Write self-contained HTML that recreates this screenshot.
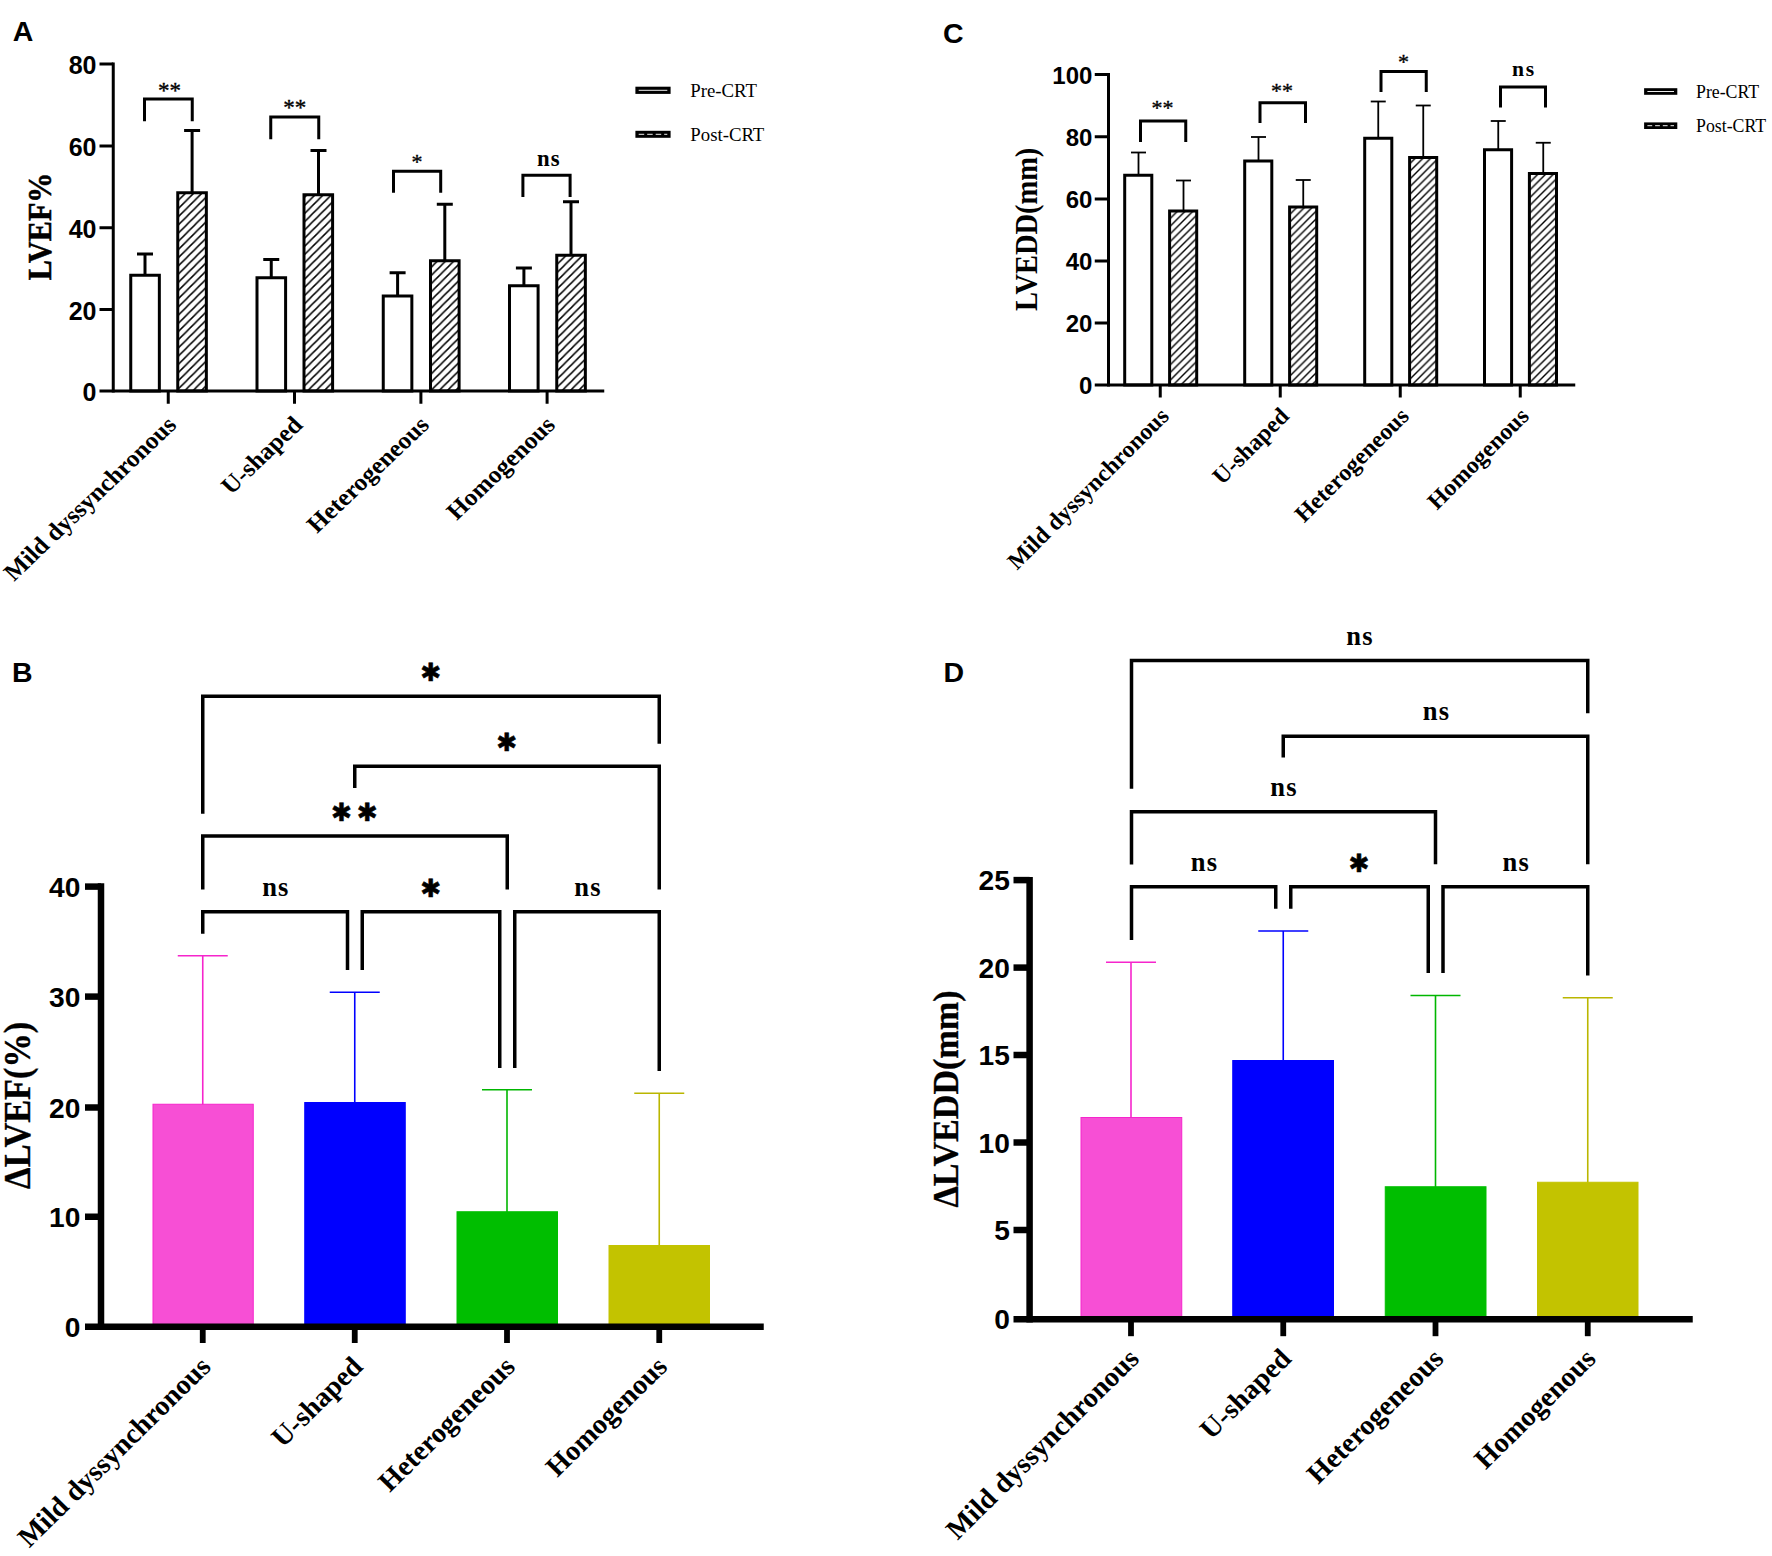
<!DOCTYPE html>
<html lang="en"><head><meta charset="utf-8"><title>Figure</title>
<style>html,body{margin:0;padding:0;background:#fff;}svg{display:block;}</style></head><body>
<svg width="1772" height="1556" viewBox="0 0 1772 1556">
<defs>
<pattern id="hatchA" patternUnits="userSpaceOnUse" width="8.2" height="8.2" x="179.2" y="191.3">
<rect width="8.2" height="8.2" fill="#fff"/>
<path d="M-2,10.2 L10.2,-2 M-2,2 L2,-2 M6.2,10.2 L10.2,6.2" stroke="#000" stroke-width="1.45"/>
</pattern>
<pattern id="hatchC" patternUnits="userSpaceOnUse" width="7.7" height="7.7" x="1171.5" y="209.5">
<rect width="7.7" height="7.7" fill="#fff"/>
<path d="M-2,9.7 L9.7,-2 M-2,2 L2,-2 M5.7,9.7 L9.7,5.7" stroke="#000" stroke-width="1.4"/>
</pattern>
</defs>
<rect width="1772" height="1556" fill="#fff"/>
<g id="panelA">
<text x="12.80" y="41.40" font-family='"Liberation Sans", Arial, Helvetica, sans-serif' font-size="28.5" font-weight="bold" text-anchor="start" >A</text>
<line x1="145.00" y1="254.00" x2="145.00" y2="275.25" stroke="#000" stroke-width="3" stroke-linecap="butt"/>
<line x1="137.00" y1="254.00" x2="153.00" y2="254.00" stroke="#000" stroke-width="3" stroke-linecap="butt"/>
<line x1="192.10" y1="130.50" x2="192.10" y2="192.75" stroke="#000" stroke-width="3" stroke-linecap="butt"/>
<line x1="184.10" y1="130.50" x2="200.10" y2="130.50" stroke="#000" stroke-width="3" stroke-linecap="butt"/>
<rect x="130.75" y="275.25" width="28.60" height="115.75" fill="#fff" stroke="#000" stroke-width="3"/>
<rect x="177.75" y="192.75" width="28.60" height="198.25" fill="url(#hatchA)" stroke="#000" stroke-width="3"/>
<line x1="271.25" y1="259.50" x2="271.25" y2="277.75" stroke="#000" stroke-width="3" stroke-linecap="butt"/>
<line x1="263.25" y1="259.50" x2="279.25" y2="259.50" stroke="#000" stroke-width="3" stroke-linecap="butt"/>
<line x1="318.50" y1="150.50" x2="318.50" y2="194.75" stroke="#000" stroke-width="3" stroke-linecap="butt"/>
<line x1="310.50" y1="150.50" x2="326.50" y2="150.50" stroke="#000" stroke-width="3" stroke-linecap="butt"/>
<rect x="257.00" y="277.75" width="28.60" height="113.25" fill="#fff" stroke="#000" stroke-width="3"/>
<rect x="304.00" y="194.75" width="28.60" height="196.25" fill="url(#hatchA)" stroke="#000" stroke-width="3"/>
<line x1="397.60" y1="272.75" x2="397.60" y2="296.00" stroke="#000" stroke-width="3" stroke-linecap="butt"/>
<line x1="389.60" y1="272.75" x2="405.60" y2="272.75" stroke="#000" stroke-width="3" stroke-linecap="butt"/>
<line x1="444.80" y1="204.25" x2="444.80" y2="260.75" stroke="#000" stroke-width="3" stroke-linecap="butt"/>
<line x1="436.80" y1="204.25" x2="452.80" y2="204.25" stroke="#000" stroke-width="3" stroke-linecap="butt"/>
<rect x="383.25" y="296.00" width="28.60" height="95.00" fill="#fff" stroke="#000" stroke-width="3"/>
<rect x="430.50" y="260.75" width="28.60" height="130.25" fill="url(#hatchA)" stroke="#000" stroke-width="3"/>
<line x1="523.90" y1="268.00" x2="523.90" y2="285.75" stroke="#000" stroke-width="3" stroke-linecap="butt"/>
<line x1="515.90" y1="268.00" x2="531.90" y2="268.00" stroke="#000" stroke-width="3" stroke-linecap="butt"/>
<line x1="571.00" y1="201.75" x2="571.00" y2="255.25" stroke="#000" stroke-width="3" stroke-linecap="butt"/>
<line x1="563.00" y1="201.75" x2="579.00" y2="201.75" stroke="#000" stroke-width="3" stroke-linecap="butt"/>
<rect x="509.50" y="285.75" width="28.60" height="105.25" fill="#fff" stroke="#000" stroke-width="3"/>
<rect x="556.75" y="255.25" width="28.60" height="135.75" fill="url(#hatchA)" stroke="#000" stroke-width="3"/>
<line x1="113.25" y1="62.50" x2="113.25" y2="392.50" stroke="#000" stroke-width="3" stroke-linecap="butt"/>
<line x1="99.50" y1="391.00" x2="604.25" y2="391.00" stroke="#000" stroke-width="3" stroke-linecap="butt"/>
<line x1="99.50" y1="64.00" x2="113.25" y2="64.00" stroke="#000" stroke-width="3" stroke-linecap="butt"/>
<line x1="99.50" y1="146.00" x2="113.25" y2="146.00" stroke="#000" stroke-width="3" stroke-linecap="butt"/>
<line x1="99.50" y1="227.75" x2="113.25" y2="227.75" stroke="#000" stroke-width="3" stroke-linecap="butt"/>
<line x1="99.50" y1="309.50" x2="113.25" y2="309.50" stroke="#000" stroke-width="3" stroke-linecap="butt"/>
<text x="96.50" y="74.00" font-family='"Liberation Sans", Arial, Helvetica, sans-serif' font-size="25" font-weight="bold" text-anchor="end" >80</text>
<text x="96.50" y="156.00" font-family='"Liberation Sans", Arial, Helvetica, sans-serif' font-size="25" font-weight="bold" text-anchor="end" >60</text>
<text x="96.50" y="237.75" font-family='"Liberation Sans", Arial, Helvetica, sans-serif' font-size="25" font-weight="bold" text-anchor="end" >40</text>
<text x="96.50" y="319.50" font-family='"Liberation Sans", Arial, Helvetica, sans-serif' font-size="25" font-weight="bold" text-anchor="end" >20</text>
<text x="96.50" y="401.00" font-family='"Liberation Sans", Arial, Helvetica, sans-serif' font-size="25" font-weight="bold" text-anchor="end" >0</text>
<line x1="168.25" y1="391.00" x2="168.25" y2="403.75" stroke="#000" stroke-width="3" stroke-linecap="butt"/>
<line x1="294.50" y1="391.00" x2="294.50" y2="403.75" stroke="#000" stroke-width="3" stroke-linecap="butt"/>
<line x1="420.90" y1="391.00" x2="420.90" y2="403.75" stroke="#000" stroke-width="3" stroke-linecap="butt"/>
<line x1="547.10" y1="391.00" x2="547.10" y2="403.75" stroke="#000" stroke-width="3" stroke-linecap="butt"/>
<path d="M144.50,121.25 L144.50,99.00 L192.25,99.00 L192.25,121.25" stroke="#000" stroke-width="3" fill="none" stroke-linejoin="miter"/>
<path d="M270.75,139.25 L270.75,117.00 L318.75,117.00 L318.75,139.25" stroke="#000" stroke-width="3" fill="none" stroke-linejoin="miter"/>
<path d="M393.50,192.80 L393.50,171.25 L440.70,171.25 L440.70,192.80" stroke="#000" stroke-width="3" fill="none" stroke-linejoin="miter"/>
<path d="M522.90,197.00 L522.90,175.20 L570.10,175.20 L570.10,197.00" stroke="#000" stroke-width="3" fill="none" stroke-linejoin="miter"/>
<text x="169.50" y="97.50" font-family='"Liberation Serif", "Times New Roman", Times, serif' font-size="23" font-weight="normal" text-anchor="middle" stroke="#000" stroke-width="0.35">**</text>
<text x="294.80" y="115.30" font-family='"Liberation Serif", "Times New Roman", Times, serif' font-size="23" font-weight="normal" text-anchor="middle" stroke="#000" stroke-width="0.35">**</text>
<text x="417.00" y="169.30" font-family='"Liberation Serif", "Times New Roman", Times, serif' font-size="22" font-weight="normal" text-anchor="middle" stroke="#000" stroke-width="0.35">*</text>
<text x="548.90" y="166.00" font-family='"Liberation Serif", "Times New Roman", Times, serif' font-size="22.8" font-weight="bold" text-anchor="middle" letter-spacing="1.0">ns</text>
<text transform="translate(51.00,226.40) rotate(-90)" font-family='"Liberation Serif", "Times New Roman", Times, serif' font-size="33" font-weight="bold" text-anchor="middle" textLength="107.8" lengthAdjust="spacingAndGlyphs" stroke="#000" stroke-width="0.5">LVEF%</text>
<text transform="translate(177.75,426.30) scale(1,0.95) rotate(-45)" font-family='"Liberation Serif", "Times New Roman", Times, serif' font-size="25.4" font-weight="bold" text-anchor="end" >Mild dyssynchronous</text>
<text transform="translate(304.00,426.30) scale(1,0.95) rotate(-45)" font-family='"Liberation Serif", "Times New Roman", Times, serif' font-size="25.4" font-weight="bold" text-anchor="end" >U-shaped</text>
<text transform="translate(430.40,426.30) scale(1,0.95) rotate(-45)" font-family='"Liberation Serif", "Times New Roman", Times, serif' font-size="25.4" font-weight="bold" text-anchor="end" >Heterogeneous</text>
<text transform="translate(556.60,426.30) scale(1,0.95) rotate(-45)" font-family='"Liberation Serif", "Times New Roman", Times, serif' font-size="25.4" font-weight="bold" text-anchor="end" >Homogenous</text>
<rect x="635.40" y="86.70" width="35.20" height="7.20" fill="#000"/>
<line x1="638.70" y1="90.30" x2="667.30" y2="90.30" stroke="#eee" stroke-width="1.0"/>
<rect x="635.40" y="130.80" width="35.20" height="7.00" fill="#000"/>
<line x1="638.70" y1="134.30" x2="667.30" y2="134.30" stroke="#eee" stroke-width="1.0" stroke-dasharray="5.5,3"/>
<text x="690.30" y="97.20" font-family='"Liberation Serif", "Times New Roman", Times, serif' font-size="18.8" font-weight="normal" text-anchor="start" >Pre-CRT</text>
<text x="690.30" y="141.20" font-family='"Liberation Serif", "Times New Roman", Times, serif' font-size="18.8" font-weight="normal" text-anchor="start" >Post-CRT</text>
</g>
<g id="panelC">
<text x="943.00" y="42.50" font-family='"Liberation Sans", Arial, Helvetica, sans-serif' font-size="28.5" font-weight="bold" text-anchor="start" >C</text>
<line x1="1138.50" y1="152.50" x2="1138.50" y2="175.25" stroke="#000" stroke-width="1.8" stroke-linecap="butt"/>
<line x1="1131.00" y1="152.50" x2="1146.00" y2="152.50" stroke="#000" stroke-width="1.8" stroke-linecap="butt"/>
<line x1="1183.50" y1="180.50" x2="1183.50" y2="211.00" stroke="#000" stroke-width="1.8" stroke-linecap="butt"/>
<line x1="1176.00" y1="180.50" x2="1191.00" y2="180.50" stroke="#000" stroke-width="1.8" stroke-linecap="butt"/>
<rect x="1124.70" y="175.25" width="27.10" height="209.75" fill="#fff" stroke="#000" stroke-width="3"/>
<rect x="1169.60" y="211.00" width="27.10" height="174.00" fill="url(#hatchC)" stroke="#000" stroke-width="3"/>
<line x1="1258.50" y1="137.00" x2="1258.50" y2="161.00" stroke="#000" stroke-width="1.8" stroke-linecap="butt"/>
<line x1="1251.00" y1="137.00" x2="1266.00" y2="137.00" stroke="#000" stroke-width="1.8" stroke-linecap="butt"/>
<line x1="1303.25" y1="180.00" x2="1303.25" y2="207.00" stroke="#000" stroke-width="1.8" stroke-linecap="butt"/>
<line x1="1295.75" y1="180.00" x2="1310.75" y2="180.00" stroke="#000" stroke-width="1.8" stroke-linecap="butt"/>
<rect x="1244.70" y="161.00" width="27.10" height="224.00" fill="#fff" stroke="#000" stroke-width="3"/>
<rect x="1289.60" y="207.00" width="27.10" height="178.00" fill="url(#hatchC)" stroke="#000" stroke-width="3"/>
<line x1="1378.25" y1="101.50" x2="1378.25" y2="138.25" stroke="#000" stroke-width="1.8" stroke-linecap="butt"/>
<line x1="1370.75" y1="101.50" x2="1385.75" y2="101.50" stroke="#000" stroke-width="1.8" stroke-linecap="butt"/>
<line x1="1423.25" y1="105.50" x2="1423.25" y2="157.50" stroke="#000" stroke-width="1.8" stroke-linecap="butt"/>
<line x1="1415.75" y1="105.50" x2="1430.75" y2="105.50" stroke="#000" stroke-width="1.8" stroke-linecap="butt"/>
<rect x="1364.70" y="138.25" width="27.10" height="246.75" fill="#fff" stroke="#000" stroke-width="3"/>
<rect x="1409.60" y="157.50" width="27.10" height="227.50" fill="url(#hatchC)" stroke="#000" stroke-width="3"/>
<line x1="1498.25" y1="121.00" x2="1498.25" y2="149.75" stroke="#000" stroke-width="1.8" stroke-linecap="butt"/>
<line x1="1490.75" y1="121.00" x2="1505.75" y2="121.00" stroke="#000" stroke-width="1.8" stroke-linecap="butt"/>
<line x1="1543.25" y1="142.75" x2="1543.25" y2="173.50" stroke="#000" stroke-width="1.8" stroke-linecap="butt"/>
<line x1="1535.75" y1="142.75" x2="1550.75" y2="142.75" stroke="#000" stroke-width="1.8" stroke-linecap="butt"/>
<rect x="1484.50" y="149.75" width="27.10" height="235.25" fill="#fff" stroke="#000" stroke-width="3"/>
<rect x="1529.40" y="173.50" width="27.10" height="211.50" fill="url(#hatchC)" stroke="#000" stroke-width="3"/>
<line x1="1108.50" y1="73.00" x2="1108.50" y2="386.50" stroke="#000" stroke-width="3" stroke-linecap="butt"/>
<line x1="1094.75" y1="385.00" x2="1575.25" y2="385.00" stroke="#000" stroke-width="3" stroke-linecap="butt"/>
<line x1="1094.75" y1="74.50" x2="1108.50" y2="74.50" stroke="#000" stroke-width="3" stroke-linecap="butt"/>
<line x1="1094.75" y1="136.75" x2="1108.50" y2="136.75" stroke="#000" stroke-width="3" stroke-linecap="butt"/>
<line x1="1094.75" y1="199.00" x2="1108.50" y2="199.00" stroke="#000" stroke-width="3" stroke-linecap="butt"/>
<line x1="1094.75" y1="261.00" x2="1108.50" y2="261.00" stroke="#000" stroke-width="3" stroke-linecap="butt"/>
<line x1="1094.75" y1="323.00" x2="1108.50" y2="323.00" stroke="#000" stroke-width="3" stroke-linecap="butt"/>
<text x="1092.40" y="83.50" font-family='"Liberation Sans", Arial, Helvetica, sans-serif' font-size="24" font-weight="bold" text-anchor="end" >100</text>
<text x="1092.40" y="145.75" font-family='"Liberation Sans", Arial, Helvetica, sans-serif' font-size="24" font-weight="bold" text-anchor="end" >80</text>
<text x="1092.40" y="208.00" font-family='"Liberation Sans", Arial, Helvetica, sans-serif' font-size="24" font-weight="bold" text-anchor="end" >60</text>
<text x="1092.40" y="270.00" font-family='"Liberation Sans", Arial, Helvetica, sans-serif' font-size="24" font-weight="bold" text-anchor="end" >40</text>
<text x="1092.40" y="332.00" font-family='"Liberation Sans", Arial, Helvetica, sans-serif' font-size="24" font-weight="bold" text-anchor="end" >20</text>
<text x="1092.40" y="394.00" font-family='"Liberation Sans", Arial, Helvetica, sans-serif' font-size="24" font-weight="bold" text-anchor="end" >0</text>
<line x1="1160.25" y1="385.00" x2="1160.25" y2="397.50" stroke="#000" stroke-width="3" stroke-linecap="butt"/>
<line x1="1280.25" y1="385.00" x2="1280.25" y2="397.50" stroke="#000" stroke-width="3" stroke-linecap="butt"/>
<line x1="1400.25" y1="385.00" x2="1400.25" y2="397.50" stroke="#000" stroke-width="3" stroke-linecap="butt"/>
<line x1="1520.25" y1="385.00" x2="1520.25" y2="397.50" stroke="#000" stroke-width="3" stroke-linecap="butt"/>
<path d="M1140.50,142.00 L1140.50,121.00 L1185.75,121.00 L1185.75,142.00" stroke="#000" stroke-width="3" fill="none" stroke-linejoin="miter"/>
<path d="M1260.00,123.00 L1260.00,102.75 L1305.50,102.75 L1305.50,123.00" stroke="#000" stroke-width="3" fill="none" stroke-linejoin="miter"/>
<path d="M1381.00,92.00 L1381.00,71.50 L1426.25,71.50 L1426.25,92.00" stroke="#000" stroke-width="3" fill="none" stroke-linejoin="miter"/>
<path d="M1500.50,107.50 L1500.50,87.00 L1545.50,87.00 L1545.50,107.50" stroke="#000" stroke-width="3" fill="none" stroke-linejoin="miter"/>
<text x="1162.60" y="115.00" font-family='"Liberation Serif", "Times New Roman", Times, serif' font-size="22" font-weight="normal" text-anchor="middle" stroke="#000" stroke-width="0.35">**</text>
<text x="1281.90" y="98.10" font-family='"Liberation Serif", "Times New Roman", Times, serif' font-size="22" font-weight="normal" text-anchor="middle" stroke="#000" stroke-width="0.35">**</text>
<text x="1403.60" y="69.40" font-family='"Liberation Serif", "Times New Roman", Times, serif' font-size="22" font-weight="normal" text-anchor="middle" stroke="#000" stroke-width="0.35">*</text>
<text x="1523.90" y="76.20" font-family='"Liberation Serif", "Times New Roman", Times, serif' font-size="21.6" font-weight="bold" text-anchor="middle" letter-spacing="1.6">ns</text>
<text transform="translate(1036.60,229.30) rotate(-90)" font-family='"Liberation Serif", "Times New Roman", Times, serif' font-size="31.1" font-weight="bold" text-anchor="middle" textLength="163.2" lengthAdjust="spacingAndGlyphs">LVEDD(mm)</text>
<text transform="translate(1170.25,417.50) rotate(-45)" font-family='"Liberation Serif", "Times New Roman", Times, serif' font-size="23.75" font-weight="bold" text-anchor="end" >Mild dyssynchronous</text>
<text transform="translate(1290.25,417.50) rotate(-45)" font-family='"Liberation Serif", "Times New Roman", Times, serif' font-size="23.75" font-weight="bold" text-anchor="end" >U-shaped</text>
<text transform="translate(1410.25,417.50) rotate(-45)" font-family='"Liberation Serif", "Times New Roman", Times, serif' font-size="23.75" font-weight="bold" text-anchor="end" >Heterogeneous</text>
<text transform="translate(1530.25,417.50) rotate(-45)" font-family='"Liberation Serif", "Times New Roman", Times, serif' font-size="23.75" font-weight="bold" text-anchor="end" >Homogenous</text>
<rect x="1644.10" y="88.20" width="33.20" height="6.60" fill="#000"/>
<line x1="1647.40" y1="91.50" x2="1674.00" y2="91.50" stroke="#eee" stroke-width="1.0"/>
<rect x="1644.10" y="122.40" width="33.20" height="6.60" fill="#000"/>
<line x1="1647.40" y1="125.70" x2="1674.00" y2="125.70" stroke="#eee" stroke-width="1.0" stroke-dasharray="4.8,2.9"/>
<text x="1696.00" y="98.30" font-family='"Liberation Serif", "Times New Roman", Times, serif' font-size="17.8" font-weight="normal" text-anchor="start" >Pre-CRT</text>
<text x="1696.00" y="132.30" font-family='"Liberation Serif", "Times New Roman", Times, serif' font-size="17.8" font-weight="normal" text-anchor="start" >Post-CRT</text>
</g>
<g id="panelB">
<text x="12.00" y="682.00" font-family='"Liberation Sans", Arial, Helvetica, sans-serif' font-size="28.5" font-weight="bold" text-anchor="start" >B</text>
<line x1="202.75" y1="955.80" x2="202.75" y2="1104.75" stroke="#f625cc" stroke-width="1.6" stroke-linecap="butt"/>
<line x1="177.75" y1="955.80" x2="227.75" y2="955.80" stroke="#f625cc" stroke-width="1.6" stroke-linecap="butt"/>
<rect x="153.00" y="1104.25" width="100.25" height="222.45" fill="#f74fd5" stroke="#f625cc" stroke-width="1"/>
<line x1="354.75" y1="992.30" x2="354.75" y2="1103.00" stroke="#0000ff" stroke-width="1.6" stroke-linecap="butt"/>
<line x1="329.75" y1="992.30" x2="379.75" y2="992.30" stroke="#0000ff" stroke-width="1.6" stroke-linecap="butt"/>
<rect x="304.75" y="1102.50" width="100.50" height="224.20" fill="#0000ff" stroke="#0000ff" stroke-width="1"/>
<line x1="507.00" y1="1089.80" x2="507.00" y2="1212.25" stroke="#00b600" stroke-width="1.6" stroke-linecap="butt"/>
<line x1="482.00" y1="1089.80" x2="532.00" y2="1089.80" stroke="#00b600" stroke-width="1.6" stroke-linecap="butt"/>
<rect x="457.00" y="1211.75" width="100.50" height="114.95" fill="#00be00" stroke="#00be00" stroke-width="1"/>
<line x1="659.25" y1="1093.30" x2="659.25" y2="1246.00" stroke="#bab600" stroke-width="1.6" stroke-linecap="butt"/>
<line x1="634.25" y1="1093.30" x2="684.25" y2="1093.30" stroke="#bab600" stroke-width="1.6" stroke-linecap="butt"/>
<rect x="609.00" y="1245.50" width="100.50" height="81.20" fill="#c3c300" stroke="#c3c300" stroke-width="1"/>
<line x1="101.00" y1="883.30" x2="101.00" y2="1329.90" stroke="#000" stroke-width="6.5" stroke-linecap="butt"/>
<line x1="85.00" y1="1326.70" x2="763.75" y2="1326.70" stroke="#000" stroke-width="6.5" stroke-linecap="butt"/>
<line x1="85.00" y1="886.60" x2="101.00" y2="886.60" stroke="#000" stroke-width="6.5" stroke-linecap="butt"/>
<text x="80.40" y="896.60" font-family='"Liberation Sans", Arial, Helvetica, sans-serif' font-size="28.2" font-weight="bold" text-anchor="end" >40</text>
<line x1="85.00" y1="996.60" x2="101.00" y2="996.60" stroke="#000" stroke-width="6.5" stroke-linecap="butt"/>
<text x="80.40" y="1006.60" font-family='"Liberation Sans", Arial, Helvetica, sans-serif' font-size="28.2" font-weight="bold" text-anchor="end" >30</text>
<line x1="85.00" y1="1107.50" x2="101.00" y2="1107.50" stroke="#000" stroke-width="6.5" stroke-linecap="butt"/>
<text x="80.40" y="1117.50" font-family='"Liberation Sans", Arial, Helvetica, sans-serif' font-size="28.2" font-weight="bold" text-anchor="end" >20</text>
<line x1="85.00" y1="1216.75" x2="101.00" y2="1216.75" stroke="#000" stroke-width="6.5" stroke-linecap="butt"/>
<text x="80.40" y="1226.75" font-family='"Liberation Sans", Arial, Helvetica, sans-serif' font-size="28.2" font-weight="bold" text-anchor="end" >10</text>
<text x="80.40" y="1336.70" font-family='"Liberation Sans", Arial, Helvetica, sans-serif' font-size="28.2" font-weight="bold" text-anchor="end" >0</text>
<line x1="202.75" y1="1326.70" x2="202.75" y2="1343.00" stroke="#000" stroke-width="5.8" stroke-linecap="butt"/>
<line x1="354.75" y1="1326.70" x2="354.75" y2="1343.00" stroke="#000" stroke-width="5.8" stroke-linecap="butt"/>
<line x1="507.00" y1="1326.70" x2="507.00" y2="1343.00" stroke="#000" stroke-width="5.8" stroke-linecap="butt"/>
<line x1="659.25" y1="1326.70" x2="659.25" y2="1343.00" stroke="#000" stroke-width="5.8" stroke-linecap="butt"/>
<path d="M202.75,813.75 L202.75,696.25 L659.25,696.25 L659.25,743.75" stroke="#000" stroke-width="3.5" fill="none" stroke-linejoin="miter"/>
<path d="M354.75,788.00 L354.75,766.25 L659.25,766.25 L659.25,889.50" stroke="#000" stroke-width="3.5" fill="none" stroke-linejoin="miter"/>
<path d="M202.75,889.50 L202.75,836.00 L507.25,836.00 L507.25,889.50" stroke="#000" stroke-width="3.5" fill="none" stroke-linejoin="miter"/>
<path d="M202.75,933.75 L202.75,911.75 L347.50,911.75 L347.50,970.00" stroke="#000" stroke-width="3.5" fill="none" stroke-linejoin="miter"/>
<path d="M362.25,970.00 L362.25,911.75 L499.75,911.75 L499.75,1068.00" stroke="#000" stroke-width="3.5" fill="none" stroke-linejoin="miter"/>
<path d="M514.75,1068.00 L514.75,911.75 L659.25,911.75 L659.25,1071.00" stroke="#000" stroke-width="3.5" fill="none" stroke-linejoin="miter"/>
<text x="430.90" y="681.38" font-family='"DejaVu Sans", "Liberation Sans", sans-serif' font-size="24.9" text-anchor="middle" stroke="#000" stroke-width="0.55" stroke-linejoin="miter">✱</text>
<text x="506.97" y="751.28" font-family='"DejaVu Sans", "Liberation Sans", sans-serif' font-size="24.9" text-anchor="middle" stroke="#000" stroke-width="0.55" stroke-linejoin="miter">✱</text>
<text x="341.75 367.40" y="821.28" font-family='"DejaVu Sans", "Liberation Sans", sans-serif' font-size="24.9" text-anchor="middle" stroke="#000" stroke-width="0.55" stroke-linejoin="miter">✱✱</text>
<text x="275.90" y="895.80" font-family='"Liberation Serif", "Times New Roman", Times, serif' font-size="26.5" font-weight="bold" text-anchor="middle" letter-spacing="1.2">ns</text>
<text x="430.90" y="896.58" font-family='"DejaVu Sans", "Liberation Sans", sans-serif' font-size="24.9" text-anchor="middle" stroke="#000" stroke-width="0.55" stroke-linejoin="miter">✱</text>
<text x="588.00" y="895.80" font-family='"Liberation Serif", "Times New Roman", Times, serif' font-size="26.5" font-weight="bold" text-anchor="middle" letter-spacing="1.2">ns</text>
<text transform="translate(29.90,1105.30) rotate(-90)" font-family='"Liberation Serif", "Times New Roman", Times, serif' font-size="37.4" font-weight="bold" text-anchor="middle" textLength="167.2" lengthAdjust="spacingAndGlyphs" stroke="#000" stroke-width="0.35">ΔLVEF(%)</text>
<text transform="translate(212.25,1368.20) scale(1,0.985) rotate(-45)" font-family='"Liberation Serif", "Times New Roman", Times, serif' font-size="28.4" font-weight="bold" text-anchor="end" >Mild dyssynchronous</text>
<text transform="translate(364.25,1368.20) scale(1,0.985) rotate(-45)" font-family='"Liberation Serif", "Times New Roman", Times, serif' font-size="28.4" font-weight="bold" text-anchor="end" >U-shaped</text>
<text transform="translate(516.50,1368.20) scale(1,0.985) rotate(-45)" font-family='"Liberation Serif", "Times New Roman", Times, serif' font-size="28.4" font-weight="bold" text-anchor="end" >Heterogeneous</text>
<text transform="translate(668.75,1368.20) scale(1,0.985) rotate(-45)" font-family='"Liberation Serif", "Times New Roman", Times, serif' font-size="28.4" font-weight="bold" text-anchor="end" >Homogenous</text>
</g>
<g id="panelD">
<text x="943.50" y="682.00" font-family='"Liberation Sans", Arial, Helvetica, sans-serif' font-size="28.5" font-weight="bold" text-anchor="start" >D</text>
<line x1="1131.00" y1="962.30" x2="1131.00" y2="1118.00" stroke="#f625cc" stroke-width="1.6" stroke-linecap="butt"/>
<line x1="1106.00" y1="962.30" x2="1156.00" y2="962.30" stroke="#f625cc" stroke-width="1.6" stroke-linecap="butt"/>
<rect x="1081.00" y="1117.50" width="100.75" height="201.80" fill="#f74fd5" stroke="#f625cc" stroke-width="1"/>
<line x1="1283.25" y1="931.05" x2="1283.25" y2="1061.00" stroke="#0000ff" stroke-width="1.6" stroke-linecap="butt"/>
<line x1="1258.25" y1="931.05" x2="1308.25" y2="931.05" stroke="#0000ff" stroke-width="1.6" stroke-linecap="butt"/>
<rect x="1232.75" y="1060.50" width="100.75" height="258.80" fill="#0000ff" stroke="#0000ff" stroke-width="1"/>
<line x1="1435.50" y1="995.55" x2="1435.50" y2="1187.25" stroke="#00b600" stroke-width="1.6" stroke-linecap="butt"/>
<line x1="1410.50" y1="995.55" x2="1460.50" y2="995.55" stroke="#00b600" stroke-width="1.6" stroke-linecap="butt"/>
<rect x="1385.25" y="1186.75" width="100.75" height="132.55" fill="#00be00" stroke="#00be00" stroke-width="1"/>
<line x1="1587.75" y1="997.80" x2="1587.75" y2="1182.75" stroke="#bab600" stroke-width="1.6" stroke-linecap="butt"/>
<line x1="1562.75" y1="997.80" x2="1612.75" y2="997.80" stroke="#bab600" stroke-width="1.6" stroke-linecap="butt"/>
<rect x="1537.50" y="1182.25" width="100.50" height="137.05" fill="#c3c300" stroke="#c3c300" stroke-width="1"/>
<line x1="1029.60" y1="877.00" x2="1029.60" y2="1322.50" stroke="#000" stroke-width="6.5" stroke-linecap="butt"/>
<line x1="1013.50" y1="1319.30" x2="1692.75" y2="1319.30" stroke="#000" stroke-width="6.5" stroke-linecap="butt"/>
<line x1="1013.50" y1="880.10" x2="1029.60" y2="880.10" stroke="#000" stroke-width="6.5" stroke-linecap="butt"/>
<text x="1009.90" y="890.10" font-family='"Liberation Sans", Arial, Helvetica, sans-serif' font-size="28.2" font-weight="bold" text-anchor="end" >25</text>
<line x1="1013.50" y1="967.60" x2="1029.60" y2="967.60" stroke="#000" stroke-width="6.5" stroke-linecap="butt"/>
<text x="1009.90" y="977.60" font-family='"Liberation Sans", Arial, Helvetica, sans-serif' font-size="28.2" font-weight="bold" text-anchor="end" >20</text>
<line x1="1013.50" y1="1055.00" x2="1029.60" y2="1055.00" stroke="#000" stroke-width="6.5" stroke-linecap="butt"/>
<text x="1009.90" y="1065.00" font-family='"Liberation Sans", Arial, Helvetica, sans-serif' font-size="28.2" font-weight="bold" text-anchor="end" >15</text>
<line x1="1013.50" y1="1142.50" x2="1029.60" y2="1142.50" stroke="#000" stroke-width="6.5" stroke-linecap="butt"/>
<text x="1009.90" y="1152.50" font-family='"Liberation Sans", Arial, Helvetica, sans-serif' font-size="28.2" font-weight="bold" text-anchor="end" >10</text>
<line x1="1013.50" y1="1230.00" x2="1029.60" y2="1230.00" stroke="#000" stroke-width="6.5" stroke-linecap="butt"/>
<text x="1009.90" y="1240.00" font-family='"Liberation Sans", Arial, Helvetica, sans-serif' font-size="28.2" font-weight="bold" text-anchor="end" >5</text>
<text x="1009.90" y="1329.30" font-family='"Liberation Sans", Arial, Helvetica, sans-serif' font-size="28.2" font-weight="bold" text-anchor="end" >0</text>
<line x1="1131.00" y1="1319.30" x2="1131.00" y2="1336.20" stroke="#000" stroke-width="5.8" stroke-linecap="butt"/>
<line x1="1283.25" y1="1319.30" x2="1283.25" y2="1336.20" stroke="#000" stroke-width="5.8" stroke-linecap="butt"/>
<line x1="1435.50" y1="1319.30" x2="1435.50" y2="1336.20" stroke="#000" stroke-width="5.8" stroke-linecap="butt"/>
<line x1="1587.75" y1="1319.30" x2="1587.75" y2="1336.20" stroke="#000" stroke-width="5.8" stroke-linecap="butt"/>
<path d="M1131.50,788.75 L1131.50,660.50 L1587.75,660.50 L1587.75,713.25" stroke="#000" stroke-width="3.5" fill="none" stroke-linejoin="miter"/>
<path d="M1283.25,757.50 L1283.25,736.25 L1587.75,736.25 L1587.75,864.25" stroke="#000" stroke-width="3.5" fill="none" stroke-linejoin="miter"/>
<path d="M1131.50,864.50 L1131.50,811.75 L1435.50,811.75 L1435.50,864.25" stroke="#000" stroke-width="3.5" fill="none" stroke-linejoin="miter"/>
<path d="M1131.50,940.00 L1131.50,886.75 L1275.75,886.75 L1275.75,908.75" stroke="#000" stroke-width="3.5" fill="none" stroke-linejoin="miter"/>
<path d="M1290.75,908.75 L1290.75,886.75 L1428.25,886.75 L1428.25,973.00" stroke="#000" stroke-width="3.5" fill="none" stroke-linejoin="miter"/>
<path d="M1443.00,973.00 L1443.00,886.75 L1587.75,886.75 L1587.75,975.50" stroke="#000" stroke-width="3.5" fill="none" stroke-linejoin="miter"/>
<text x="1360.10" y="644.50" font-family='"Liberation Serif", "Times New Roman", Times, serif' font-size="26.5" font-weight="bold" text-anchor="middle" letter-spacing="1.2">ns</text>
<text x="1436.60" y="720.00" font-family='"Liberation Serif", "Times New Roman", Times, serif' font-size="26.5" font-weight="bold" text-anchor="middle" letter-spacing="1.2">ns</text>
<text x="1284.10" y="795.50" font-family='"Liberation Serif", "Times New Roman", Times, serif' font-size="26.5" font-weight="bold" text-anchor="middle" letter-spacing="1.2">ns</text>
<text x="1204.60" y="870.70" font-family='"Liberation Serif", "Times New Roman", Times, serif' font-size="26.5" font-weight="bold" text-anchor="middle" letter-spacing="1.2">ns</text>
<text x="1359.13" y="871.80" font-family='"DejaVu Sans", "Liberation Sans", sans-serif' font-size="24.9" text-anchor="middle" stroke="#000" stroke-width="0.55" stroke-linejoin="miter">✱</text>
<text x="1516.30" y="870.50" font-family='"Liberation Serif", "Times New Roman", Times, serif' font-size="26.5" font-weight="bold" text-anchor="middle" letter-spacing="1.2">ns</text>
<text transform="translate(958.25,1099.00) rotate(-90)" font-family='"Liberation Serif", "Times New Roman", Times, serif' font-size="36.4" font-weight="bold" text-anchor="middle" textLength="217" lengthAdjust="spacingAndGlyphs" stroke="#000" stroke-width="0.35">ΔLVEDD(mm)</text>
<text transform="translate(1140.50,1360.30) scale(1,0.985) rotate(-45)" font-family='"Liberation Serif", "Times New Roman", Times, serif' font-size="28.4" font-weight="bold" text-anchor="end" >Mild dyssynchronous</text>
<text transform="translate(1292.75,1360.30) scale(1,0.985) rotate(-45)" font-family='"Liberation Serif", "Times New Roman", Times, serif' font-size="28.4" font-weight="bold" text-anchor="end" >U-shaped</text>
<text transform="translate(1445.00,1360.30) scale(1,0.985) rotate(-45)" font-family='"Liberation Serif", "Times New Roman", Times, serif' font-size="28.4" font-weight="bold" text-anchor="end" >Heterogeneous</text>
<text transform="translate(1597.25,1360.30) scale(1,0.985) rotate(-45)" font-family='"Liberation Serif", "Times New Roman", Times, serif' font-size="28.4" font-weight="bold" text-anchor="end" >Homogenous</text>
</g>
</svg></body></html>
